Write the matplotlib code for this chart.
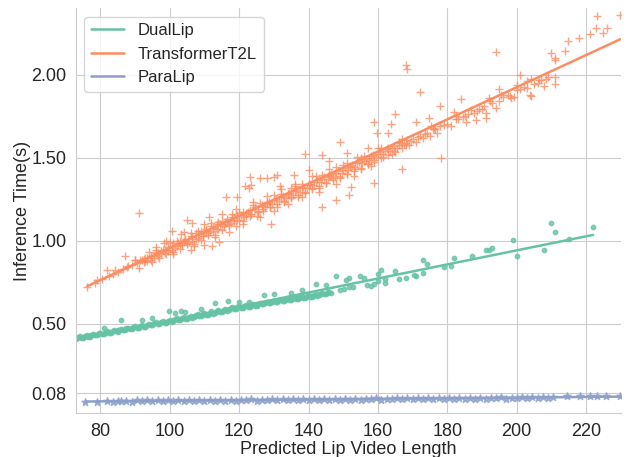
import matplotlib
matplotlib.use("Agg")
import matplotlib.pyplot as plt
import numpy as np
import seaborn as sns

# values (x = predicted lip video length, y = seconds)
dual_x = [73, 73.5, 74.5, 75.5, 76.5, 77.5, 78.5, 79.5, 80.5, 81.5, 82.5, 83.5, 84.5, 85.5,
          86.5, 87.5, 88.5, 89.5, 90.5, 91.5, 92.5, 93.5, 94.5, 95.5, 96.5, 97.5, 98.5, 99.5,
          100.5, 101.5, 102.5, 103.5, 104.5, 105.5, 106.5, 107.5, 108.5, 109.5, 110.5, 111.5,
          112.5, 113.5, 114.5, 115.5, 116.5, 117.5, 118.5, 119.5, 120.5, 121.5, 122.5, 123.5,
          124.5, 125.5, 126.5, 127.5, 128.5, 129.5, 130.5, 131.5, 132.5, 133.5, 134.5, 135.5,
          136.5, 137.5, 138.5, 139.5, 140.5, 141.5, 142.5, 143.5, 144.5, 145.5, 146.5,
          74, 75, 76, 77, 78, 79, 80, 81, 82, 83, 84, 85, 86, 87, 88, 89, 90, 91, 92, 93, 94,
          95, 96, 97, 98, 99, 100, 101, 102, 103, 104, 105, 106, 107, 108, 109, 110, 111, 112,
          113, 114, 115, 116, 117, 118, 119, 120, 121, 122, 123, 124, 125, 126, 127, 128, 129,
          130, 131, 132, 133, 134, 135, 136, 137, 138, 139, 140, 141, 142, 143, 144, 145, 146,
          75.2, 77.2, 79.2, 81.2, 83.2, 85.2, 87.2, 89.2, 91.2, 93.2, 95.2, 97.2, 99.2, 101.2,
          103.2, 105.2, 107.2, 109.2, 111.2, 113.2, 115.2, 117.2, 119.2, 121.2, 123.2, 125.2,
          127.2, 129.2, 131.2, 133.2, 135.2, 137.2, 139.2, 141.2, 143.2, 145.2,
          81, 85.8, 92, 94.9, 99.7, 101.6, 103.1, 104.5, 108.9, 113, 116.8, 119.9, 122.8,
          127.1, 130, 135, 138, 142.1, 145,
          148, 149.2, 150.2, 151.6, 152.9, 150.7, 151.6, 154.8, 155.9, 156.9, 157.9, 159,
          160, 161, 160, 162, 162, 164.9, 166.1, 168, 170.4, 171.1, 173, 174, 173, 179.1,
          181, 182, 187, 191, 192, 193, 199, 200, 208, 210, 211, 215, 222]
dual_y = [0.408, 0.418, 0.415, 0.425, 0.420, 0.432, 0.428, 0.440, 0.436, 0.448, 0.444, 0.456,
          0.452, 0.463, 0.459, 0.470, 0.466, 0.478, 0.474, 0.486, 0.481, 0.494, 0.489, 0.502,
          0.496, 0.509, 0.504, 0.517, 0.511, 0.525, 0.519, 0.532, 0.527, 0.540, 0.535, 0.549,
          0.543, 0.557, 0.552, 0.566, 0.560, 0.574, 0.569, 0.583, 0.577, 0.591, 0.586, 0.599,
          0.594, 0.606, 0.601, 0.613, 0.608, 0.619, 0.615, 0.626, 0.621, 0.632, 0.628, 0.639,
          0.634, 0.645, 0.641, 0.652, 0.647, 0.659, 0.654, 0.666, 0.661, 0.673, 0.668, 0.680,
          0.675, 0.687, 0.682,
          0.422, 0.412, 0.430, 0.420, 0.437, 0.428, 0.445, 0.435, 0.452, 0.443, 0.460, 0.450,
          0.468, 0.458, 0.475, 0.466, 0.483, 0.473, 0.491, 0.481, 0.499, 0.489, 0.507, 0.497,
          0.515, 0.505, 0.523, 0.513, 0.531, 0.521, 0.539, 0.529, 0.548, 0.537, 0.556, 0.546,
          0.565, 0.554, 0.573, 0.563, 0.582, 0.571, 0.590, 0.580, 0.598, 0.588, 0.605, 0.595,
          0.612, 0.602, 0.618, 0.608, 0.625, 0.615, 0.631, 0.621, 0.638, 0.628, 0.644, 0.634,
          0.651, 0.641, 0.658, 0.648, 0.665, 0.655, 0.672, 0.662, 0.679, 0.669, 0.686, 0.676,
          0.692,
          0.421, 0.428, 0.436, 0.443, 0.451, 0.458, 0.465, 0.473, 0.480, 0.488, 0.496, 0.503,
          0.511, 0.519, 0.527, 0.535, 0.543, 0.552, 0.560, 0.569, 0.577, 0.586, 0.594, 0.601,
          0.608, 0.614, 0.621, 0.627, 0.634, 0.640, 0.647, 0.654, 0.661, 0.668, 0.675, 0.682,
          0.473, 0.522, 0.522, 0.534, 0.574, 0.562, 0.578, 0.568, 0.588, 0.622, 0.634, 0.627,
          0.628, 0.673, 0.679, 0.685, 0.705, 0.740, 0.734,
          0.784, 0.704, 0.710, 0.719, 0.723, 0.764, 0.776, 0.784, 0.774, 0.735, 0.729, 0.740,
          0.796, 0.825, 0.756, 0.743, 0.767, 0.816, 0.766, 0.774, 0.790, 0.784, 0.885, 0.861,
          0.804, 0.840, 0.845, 0.895, 0.905, 0.943, 0.941, 0.955, 1.004, 0.907, 0.941, 1.103,
          1.052, 1.012, 1.082]

t2l_x = [76.2, 79.0, 81.9, 84.1, 87.2, 87.7, 91.1, 90.1, 93.0, 95.9, 98.3, 100.7, 103.1, 106.0,
         105.0, 106.5, 109.8, 112.2, 114.1, 111.2, 116.1, 119.4, 121.8, 123.3,
         168.0, 168.5, 172.0, 158.9, 164.9, 163.9, 159.8, 163.0, 149.2, 138.9, 144.0, 145.9,
         151.0, 157.0, 166.9, 158.9, 151.6, 148.0, 144.0, 129.1, 123.1, 125.9, 127.9, 130.0,
         131.0, 122.8, 131.9, 134.8, 135.8, 140.1, 152.1, 174.7, 170.9, 175.2, 176.2, 178.1,
         223.1, 229.8, 222.8, 226.0, 225.0, 221.2, 218.0, 214.8, 214.0, 210.0, 211.0, 211.1,
         194.0, 201.0, 211.0, 211.0, 207.9, 206.5, 204.1, 203.1, 203.9, 204.1, 200.2, 200.0,
         198.3, 199.1, 194.9, 195.6, 192.0, 192.3, 194.0, 183.9, 177.9, 181.9, 182.4, 186.8,
         187.7, 190.6, 191.1, 191.1, 188.2, 185.3,
         78.5, 80.5, 82.5, 83.5, 85, 86.5, 88, 89, 90.5, 91.5, 92.5, 93.5, 94.5, 95.5, 96.5,
         97.5, 98.5, 99.5, 100.5, 101, 102, 103, 103.5, 104.5, 105, 106, 106.5, 107.5, 108,
         109, 109.5, 110.5, 111, 112, 112.5, 113.5, 114, 115, 115.5, 116.5, 117, 118, 118.5,
         119.5, 120, 121, 122, 123, 123.5, 124.5, 125.5, 126.5, 127, 128, 129, 130, 131, 132,
         133, 134, 135, 136, 137, 138, 139, 140, 141, 142, 143, 144, 145, 146, 147, 148, 149,
         150, 151, 152, 153, 154, 155, 156, 157, 158, 159, 160, 161, 162, 163, 164, 165, 166,
         167, 168, 169, 170, 171, 172, 173, 174, 175, 176, 177, 178, 180, 181, 183, 184.5,
         186, 189, 193, 196, 197.5, 201, 202, 205, 207, 209,
         96, 99, 101, 104, 107, 110, 113, 115, 117, 119, 121, 124, 126, 128, 130, 132, 134,
         136, 138, 141, 143, 146, 148, 151, 153, 155, 158, 161, 164, 167,
         90, 91, 92, 93, 94, 95, 96, 97, 98, 99, 100, 101, 102, 103, 104, 105, 106, 107, 108,
         109, 110, 111, 112, 113, 114, 115, 116, 117, 118, 119, 120, 121, 122, 123, 124, 125,
         126, 127, 128, 129, 130, 131, 132, 133, 134, 135, 136, 137, 138, 139, 140, 141, 142,
         143, 144, 145, 146, 147, 148, 149, 150, 151, 152, 153, 154, 155, 156, 157, 158, 159,
         160, 161.5, 163, 164.5, 166, 168,
         92.5, 93.5, 94.5, 95.5, 96.5, 97.5, 98.5, 99.5, 100.5, 101.5, 102.5, 103.5, 104.5,
         105.5, 106.5, 107.5, 108.5, 109.5, 110.5, 111.5, 112.5, 113.5, 114.5, 115.5, 116.5,
         117.5, 118.5, 119.5, 120.5, 121.5, 122.5, 123.5, 124.5, 125.5, 126.5, 127.5, 128.5,
         129.5, 130.5, 131.5, 132.5, 133.5, 134.5, 135.5, 136.5, 137.5, 138.5, 139.5, 140.5,
         141.5, 142.5, 143.5, 144.5, 145.5, 146.5, 147.5, 148.5, 149.5, 150.5, 151.5, 152.5,
         153.5, 154.5, 155.5, 156.5, 157.5, 158.5, 159.5, 160.5, 161.5, 162.5, 163.5, 164.5,
         165.5, 166.5, 167.5, 168.5, 169.5,
         171.5, 173.5, 176.5, 179, 182.5, 185, 188.5, 190, 195, 198, 203, 206, 208.5]
t2l_y = [0.723, 0.760, 0.825, 0.825, 0.905, 0.840, 1.167, 0.880, 0.897, 0.925, 0.986, 1.058,
         1.042, 0.941, 1.123, 1.107, 0.972, 0.966, 0.992, 1.143, 1.264, 1.264, 1.329, 1.335,
         2.055, 2.035, 1.898, 1.716, 1.763, 1.704, 1.648, 1.651, 1.591, 1.522, 1.518, 1.480,
         1.527, 1.560, 1.430, 1.349, 1.274, 1.244, 1.203, 1.097, 1.381, 1.375, 1.375, 1.385,
         1.395, 1.315, 1.329, 1.315, 1.395, 1.426, 1.325, 1.739, 1.713, 1.688, 1.678, 1.496,
         2.354, 2.360, 2.283, 2.283, 2.249, 2.243, 2.219, 2.202, 2.140, 2.128, 2.102, 2.087,
         2.138, 1.999, 1.987, 1.946, 1.930, 1.970, 1.975, 1.960, 1.880, 1.870, 1.940, 1.910,
         1.860, 1.866, 1.914, 1.880, 1.860, 1.839, 1.800, 1.854, 1.813, 1.773, 1.753, 1.789,
         1.769, 1.809, 1.769, 1.739, 1.729, 1.712,
         0.745, 0.770, 0.785, 0.800, 0.812, 0.830, 0.845, 0.850, 0.862, 0.880, 0.870, 0.895,
         0.885, 0.915, 0.905, 0.940, 0.925, 0.960, 0.945, 0.985, 0.965, 0.995, 0.975, 1.010,
         0.985, 1.030, 1.000, 1.045, 1.015, 1.060, 1.030, 1.070, 1.045, 1.085, 1.055, 1.100,
         1.070, 1.115, 1.085, 1.130, 1.100, 1.140, 1.115, 1.155, 1.125, 1.170, 1.145, 1.185,
         1.160, 1.200, 1.175, 1.215, 1.190, 1.230, 1.205, 1.245, 1.220, 1.260, 1.240, 1.280,
         1.255, 1.300, 1.275, 1.315, 1.290, 1.335, 1.310, 1.350, 1.330, 1.370, 1.345, 1.390,
         1.365, 1.405, 1.385, 1.425, 1.400, 1.445, 1.420, 1.465, 1.440, 1.480, 1.460, 1.500,
         1.475, 1.520, 1.495, 1.540, 1.515, 1.555, 1.535, 1.575, 1.555, 1.590, 1.575, 1.610,
         1.595, 1.630, 1.615, 1.650, 1.630, 1.670, 1.650, 1.690, 1.705, 1.690, 1.735, 1.745,
         1.760, 1.790, 1.830, 1.865, 1.880, 1.915, 1.925, 1.945, 1.965, 1.985,
         0.960, 1.000, 0.930, 1.050, 0.970, 1.100, 1.020, 1.160, 1.050, 1.190, 1.100, 1.230,
         1.140, 1.270, 1.180, 1.310, 1.220, 1.340, 1.260, 1.390, 1.290, 1.430, 1.340, 1.470,
         1.390, 1.500, 1.450, 1.560, 1.520, 1.610,
         0.885, 0.835, 0.884, 0.874, 0.933, 0.873, 0.942, 0.892, 0.941, 0.921, 0.990, 0.920,
         0.999, 0.949, 0.998, 0.978, 1.047, 0.977, 1.056, 1.006, 1.055, 1.035, 1.104, 1.034,
         1.112, 1.062, 1.111, 1.091, 1.160, 1.090, 1.169, 1.119, 1.168, 1.148, 1.217, 1.147,
         1.226, 1.176, 1.225, 1.205, 1.274, 1.204, 1.283, 1.233, 1.281, 1.261, 1.330, 1.260,
         1.339, 1.289, 1.338, 1.318, 1.387, 1.317, 1.396, 1.346, 1.395, 1.375, 1.444, 1.374,
         1.453, 1.403, 1.452, 1.432, 1.501, 1.431, 1.510, 1.460, 1.508, 1.488, 1.557, 1.501,
         1.556, 1.540, 1.594, 1.573,
         0.889, 0.879, 0.908, 0.897, 0.927, 0.916, 0.946, 0.935, 0.965, 0.954, 0.984, 0.973,
         1.003, 0.992, 1.022, 1.011, 1.040, 1.030, 1.059, 1.049, 1.078, 1.068, 1.097, 1.087,
         1.116, 1.106, 1.135, 1.125, 1.154, 1.143, 1.173, 1.162, 1.192, 1.181, 1.211, 1.200,
         1.230, 1.219, 1.249, 1.238, 1.267, 1.257, 1.286, 1.276, 1.305, 1.295, 1.324, 1.314,
         1.343, 1.333, 1.362, 1.352, 1.381, 1.370, 1.400, 1.389, 1.419, 1.408, 1.438, 1.427,
         1.457, 1.446, 1.476, 1.465, 1.494, 1.484, 1.513, 1.503, 1.532, 1.522, 1.551, 1.541,
         1.570, 1.560, 1.589, 1.579, 1.608, 1.597,
         1.625, 1.645, 1.672, 1.695, 1.730, 1.748, 1.782, 1.795, 1.843, 1.870, 1.920, 1.950,
         1.973]

para_x = [75.7, 79, 82, 83.5, 85, 86, 87.5, 89, 90.5, 92, 93.5, 95, 96.5, 98, 99.5, 101, 102.5,
          104, 105.5, 107, 108.5, 110, 111.5, 113, 114.5, 116, 117.5, 119, 120.5, 122, 123.5,
          125, 126.5, 128, 129.5, 131, 132.5, 134, 135.5, 137, 138.5, 140, 141.5, 143, 144.5,
          146, 147.5, 149, 150.5, 152, 153.5, 155, 156.5, 158, 159.5, 161, 162.5, 164, 165.5,
          167, 168.5, 170, 171.5, 173, 174.5, 176, 177.5, 179, 180.5, 182, 183.5, 185, 186.5,
          188, 189.5, 191, 192.5, 194, 195.5, 197, 198.5, 200, 201.5, 203, 204.5, 206, 207.5,
          209, 210.5, 214.6, 218.3, 221.2, 223.1, 225.7, 229.8]
para_y = [0.029, 0.030, 0.031, 0.030, 0.032, 0.031, 0.036, 0.030, 0.037, 0.032, 0.038, 0.031,
          0.037, 0.033, 0.039, 0.032, 0.038, 0.034, 0.040, 0.033, 0.039, 0.035, 0.041, 0.034,
          0.040, 0.036, 0.042, 0.035, 0.041, 0.037, 0.043, 0.036, 0.042, 0.038, 0.044, 0.037,
          0.043, 0.039, 0.045, 0.038, 0.044, 0.040, 0.046, 0.039, 0.045, 0.041, 0.047, 0.040,
          0.046, 0.042, 0.048, 0.041, 0.047, 0.043, 0.049, 0.042, 0.048, 0.044, 0.050, 0.043,
          0.049, 0.045, 0.051, 0.044, 0.050, 0.046, 0.052, 0.045, 0.051, 0.047, 0.053, 0.046,
          0.052, 0.048, 0.054, 0.047, 0.053, 0.049, 0.055, 0.048, 0.054, 0.050, 0.056, 0.049,
          0.055, 0.051, 0.057, 0.050, 0.055, 0.063, 0.062, 0.062, 0.064, 0.063, 0.066]

y_ticks = [0.08, 0.50, 1.00, 1.50, 2.00]

sns.set_style("whitegrid")
plt.rcParams["font.family"] = ["Liberation Sans", "DejaVu Sans"]
colors = sns.color_palette("Set2", 3)

fig, ax = plt.subplots(figsize=(6.29, 4.57), dpi=100)
fig.subplots_adjust(left=0.121, right=0.987, bottom=0.096, top=0.982)

series = [("DualLip", dual_x, dual_y, "o", 10),
          ("TransformerT2L", t2l_x, t2l_y, "+", 30),
          ("ParaLip", para_x, para_y, "*", 30)]

for (name, xs, ys, marker, size), c in zip(series, colors):
    xs = np.array(xs)
    ys = np.array(ys)
    ax.scatter(xs, ys, marker=marker, s=size, color=c, alpha=0.8, linewidths=1)
    k, b = np.polyfit(xs, ys, 1)
    xl = np.array([xs.min(), xs.max()])
    ax.plot(xl, k * xl + b, color=c, lw=1.8, label=name)

ax.set_xlim(73, 230)
ax.set_ylim(-0.04, 2.40)
ax.set_yticks(y_ticks)
ax.set_yticklabels(["%.2f" % v for v in y_ticks])
ax.tick_params(labelsize=13)
ax.set_xlabel("Predicted Lip Video Length", fontsize=13, labelpad=0.5)
ax.set_ylabel("Inference Time(s)", fontsize=13, labelpad=0)
ax.legend(loc="upper left", fontsize=12)
sns.despine()

plt.savefig("out.png")
